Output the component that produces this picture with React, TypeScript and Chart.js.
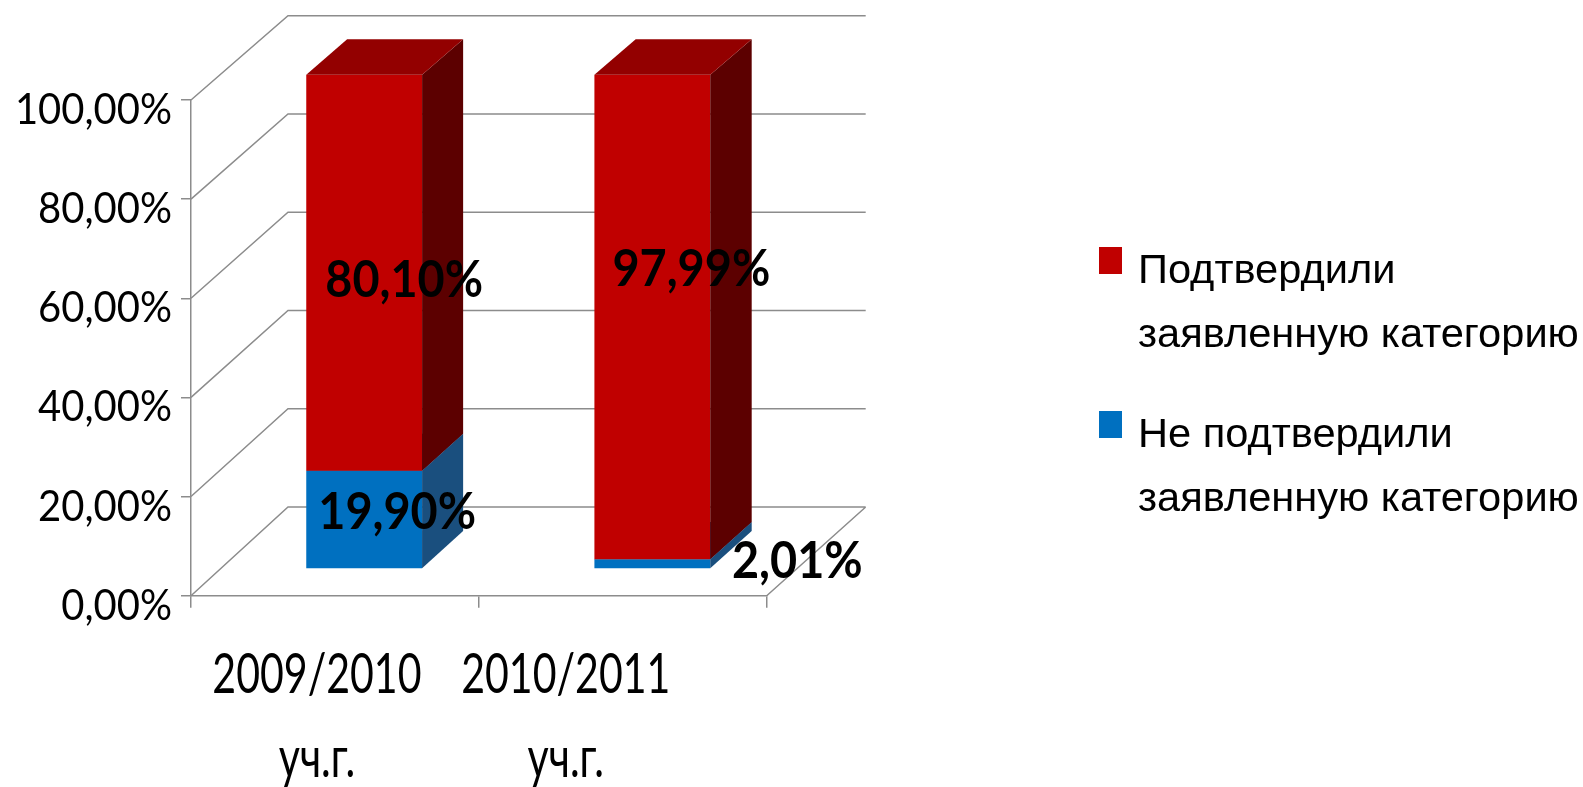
import React, { useEffect, useRef } from 'react';
import { Chart, registerables } from 'chart.js';

Chart.register(...registerables);

// ---------- data ----------
const categories: string[][] = [['2009/2010', 'уч.г.'], ['2010/2011', 'уч.г.']];
const confirmedName: string[] = ['Подтвердили', 'заявленную категорию'];
const notConfirmedName: string[] = ['Не подтвердили', 'заявленную категорию'];
const confirmed: number[] = [80.1, 97.99];
const notConfirmed: number[] = [19.9, 2.01];
const yTickValues: number[] = [0, 20, 40, 60, 80, 100];

// text nudges (px) relative to the default anchors
const confirmedLabelNudge: number[][] = [[5, 5], [4, -50]];
const notConfirmedLabelNudge: number[][] = [[-2, -10], [110, -5]];
const categoryLabelNudge: number[] = [-18, -57];

// ---------- style ----------
const FONT = "Lato, 'Noto Sans', 'Liberation Sans', sans-serif";
const WIDE = "'Liberation Sans', Arial, sans-serif";
const GRID = '#8c8c8c';
const RED = { front: '#c00000', side: '#5c0000', top: '#930000' };
const BLUE = { front: '#0070c0', side: '#1a4f7e', top: '#0b5b98' };
const DEPTH = { dxL: 97, dxR: 99, dyT: -84.3, dyB: -88.7 };
const BAR_T0 = 0.3;
const BAR_T1 = 0.72;

const fmt = (v: number) => v.toFixed(2).replace('.', ',') + '%';

function makeProj(area: any) {
  const { left, right, top, bottom } = area;
  return (x: number, y: number, t: number): [number, number] => {
    const fx = (x - left) / (right - left);
    const fy = (y - top) / (bottom - top);
    const bx = x + DEPTH.dxL + fx * (DEPTH.dxR - DEPTH.dxL);
    const by = y + DEPTH.dyT + fy * (DEPTH.dyB - DEPTH.dyT);
    return [x + t * (bx - x), y + t * (by - y)];
  };
}

function drawText(
  ctx: CanvasRenderingContext2D,
  text: string,
  x: number,
  y: number,
  size: number,
  sx: number,
  align: CanvasTextAlign,
  weight = 'normal',
  family = FONT,
) {
  ctx.save();
  ctx.font = `${weight} ${size}px ${family}`;
  ctx.textBaseline = 'alphabetic';
  ctx.textAlign = align;
  ctx.fillStyle = '#000';
  ctx.translate(x, y);
  ctx.scale(sx, 1);
  ctx.fillText(text, 0, 0);
  ctx.restore();
}

const threeD = {
  id: 'threeD',
  beforeDatasetsDraw(chart: any) {
    const { ctx, chartArea, scales } = chart;
    const P = makeProj(chartArea);
    const ys = scales.y;
    ctx.save();
    // walls
    ctx.strokeStyle = GRID;
    ctx.lineWidth = 1.5;
    ctx.beginPath();
    yTickValues.forEach((v) => {
      const py = ys.getPixelForValue(v);
      const [bx0, by0] = P(chartArea.left, py, 1);
      const [bx1, by1] = P(chartArea.right, py, 1);
      ctx.moveTo(chartArea.left, py);
      ctx.lineTo(bx0, by0);
      ctx.lineTo(bx1, by1);
    });
    const [fx, fy] = P(chartArea.right, chartArea.bottom, 1);
    ctx.moveTo(chartArea.right, chartArea.bottom);
    ctx.lineTo(fx, fy);
    ctx.stroke();

    const poly = (pts: [number, number][], color: string) => {
      ctx.beginPath();
      ctx.moveTo(pts[0][0], pts[0][1]);
      for (let k = 1; k < pts.length; k++) ctx.lineTo(pts[k][0], pts[k][1]);
      ctx.closePath();
      ctx.fillStyle = color;
      ctx.fill();
    };

    const n = chart.data.labels.length;
    for (let i = 0; i < n; i++) {
      chart.data.datasets.forEach((ds: any, di: number) => {
        const el = chart.getDatasetMeta(di).data[i];
        const x = el.x, yt = el.y, base = el.base, w = el.width;
        const xl = x - w / 2, xr = x + w / 2;
        const a = P(xl, base, BAR_T0), b = P(xr, base, BAR_T0);
        const c = P(xr, yt, BAR_T0), d = P(xl, yt, BAR_T0);
        const b1 = P(xr, base, BAR_T1), c1 = P(xr, yt, BAR_T1), d1 = P(xl, yt, BAR_T1);
        poly([a, b, c, d], ds.faces.front);
        poly([b, b1, c1, c], ds.faces.side);
        poly([d, c, c1, d1], ds.faces.top);
      });
    }

    // data labels
    chart.data.datasets.forEach((ds: any, di: number) => {
      chart.getDatasetMeta(di).data.forEach((el: any, i: number) => {
        const [cx, cy] = P(el.x, (el.y + el.base) / 2, BAR_T0);
        const nd = ds.labelNudge[i];
        drawText(ctx, fmt(ds.data[i]), cx + 35 + nd[0], cy + nd[1] + 19, 52, 0.9, 'center', 'bold');
      });
    });
    ctx.restore();
    return false;
  },
  afterDraw(chart: any) {
    const { ctx, chartArea, scales } = chart;
    // y tick labels
    scales.y.ticks.forEach((tk: any) => {
      const py = scales.y.getPixelForValue(tk.value);
      drawText(ctx, fmt(tk.value), chartArea.left - 19, py + 24, 43, 0.93, 'right');
    });
    // category labels
    categories.forEach((lines, i) => {
      const px = scales.x.getPixelForValue(i) + categoryLabelNudge[i];
      lines.forEach((ln, j) => {
        drawText(ctx, ln, px, chartArea.bottom + 97.3 + j * 84, 55.5, 0.74, 'center');
      });
    });
    // legend
    const items = [
      { lines: confirmedName, color: RED.front },
      { lines: notConfirmedName, color: BLUE.front },
    ];
    items.forEach((it, k) => {
      const base = 283 + k * 164;
      ctx.save();
      ctx.fillStyle = it.color;
      ctx.fillRect(1099, base - 36, 23, 27);
      ctx.restore();
      it.lines.forEach((ln, j) => drawText(ctx, ln, 1138, base + j * 64, 40, 1.04, 'left', 'normal', WIDE));
    });
  },
};

export default function App() {
  const ref = useRef<HTMLCanvasElement | null>(null);
  useEffect(() => {
    if (!ref.current) return;
    const chart = new Chart(ref.current, {
      type: 'bar',
      data: {
        labels: categories,
        datasets: [
          {
            label: notConfirmedName.join(' '),
            data: notConfirmed,
            backgroundColor: BLUE.front,
            faces: BLUE,
            labelNudge: notConfirmedLabelNudge,
          } as any,
          {
            label: confirmedName.join(' '),
            data: confirmed,
            backgroundColor: RED.front,
            faces: RED,
            labelNudge: confirmedLabelNudge,
          } as any,
        ],
      },
      options: {
        responsive: false,
        animation: false,
        devicePixelRatio: 1,
        layout: { padding: { top: 100, right: 816.3, bottom: 0, left: 0 } },
        datasets: { bar: { categoryPercentage: 1, barPercentage: 0.402 } },
        plugins: { legend: { display: false }, tooltip: { enabled: false } },
        scales: {
          x: {
            stacked: true,
            afterFit: (s: any) => { s.height = 191.3; },
            grid: { offset: true, drawOnChartArea: false, drawTicks: true, tickLength: 12, color: GRID, lineWidth: 1.5 },
            border: { display: true, color: GRID, width: 1.5 },
            ticks: { display: false },
          },
          y: {
            stacked: true,
            min: 0,
            max: 100,
            afterFit: (s: any) => { s.width = 191; },
            afterBuildTicks: (s: any) => { s.ticks = yTickValues.map((v) => ({ value: v })); },
            grid: { drawOnChartArea: false, drawTicks: true, tickLength: 10, color: GRID, lineWidth: 1.5 },
            border: { display: true, color: GRID, width: 1.5 },
            ticks: { display: false },
          },
        },
      } as any,
      plugins: [threeD],
    });
    return () => chart.destroy();
  }, []);
  return (
    <div style={{ position: 'fixed', left: 0, top: 0, width: 1583, height: 787, background: '#fff' }}>
      <canvas ref={ref} width={1583} height={787} style={{ display: 'block' }} />
    </div>
  );
}
